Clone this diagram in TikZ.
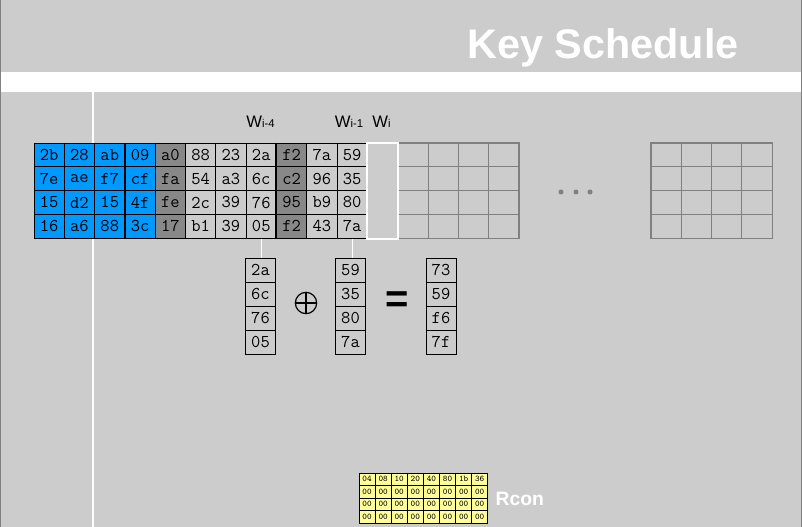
\documentclass[tikz,border=0pt]{standalone}
\usepackage{fontspec}
\setsansfont{Liberation Sans}
\definecolor{bg}{HTML}{CCCCCC}
\definecolor{keyblue}{HTML}{0099FF}
\definecolor{darkcell}{HTML}{888888}
\definecolor{gridgray}{HTML}{808080}
\definecolor{rconyellow}{HTML}{FFFF99}
\begin{document}
\begin{tikzpicture}[x=0.75pt,y=-0.75pt,
    cell/.style={draw=black,line width=0.6pt,minimum width=22.7pt,minimum height=17.85pt,
      inner sep=0pt,font=\ttfamily\fontsize{13.5}{13.5}\selectfont},
    col/.code={\ifnum#1<4\relax\pgfkeysalso{fill=keyblue}\else
      \ifnum#1=4\relax\pgfkeysalso{fill=darkcell}\else
      \ifnum#1=8\relax\pgfkeysalso{fill=darkcell}\else
      \pgfkeysalso{fill=bg}\fi\fi\fi},
    blank/.style={draw=gridgray,line width=0.5pt,minimum width=22.7pt,minimum height=17.85pt,inner sep=0pt},
    vcell/.style={cell,fill=bg,minimum width=22.5pt,minimum height=18pt},
    rcell/.style={draw=black,fill=rconyellow,line width=0.5pt,minimum width=12.07pt,minimum height=9.4pt,
      inner sep=0pt,font=\ttfamily\fontsize{6.5}{6.5}\selectfont},
    wlabel/.style={font=\sffamily\fontsize{12.5}{12.5}\selectfont,anchor=base,inner sep=0pt}]
  \useasboundingbox[fill=bg] (0,0) rectangle (802,527);
  \fill[white] (0,72) rectangle (802,92);
  \draw[white,line width=1.2pt] (93,92) -- (93,527);
  \draw[gridgray,line width=0.75pt] (0.5,0) -- (0.5,527) (801.5,0) -- (801.5,527);
  \node[font=\sffamily\bfseries\fontsize{31}{31}\selectfont,text=white,anchor=base] (title) at (603,59) {Key Schedule};
  \foreach \row [count=\j from 0] in {{2b,28,ab,09,a0,88,23,2a,f2,7a,59},
      {7e,ae,f7,cf,fa,54,a3,6c,c2,96,35},{15,d2,15,4f,fe,2c,39,76,95,b9,80},
      {16,a6,88,3c,17,b1,39,05,f2,43,7a}}{
    \foreach \val [count=\i from 0] in \row
      \node[cell,col=\i] (c-\j-\i) at ({49.15+30.3*\i},{154.9+23.8*\j}) {\val};
  }
  \foreach \j in {0,...,3}{
    \node[cell,draw=none] (w-\j) at ({49.15+30.3*11},{154.9+23.8*\j}) {};
    \foreach \i in {12,...,15}
      \node[blank] (e-\j-\i) at ({49.15+30.3*\i},{154.9+23.8*\j}) {};
    \foreach \i in {0,...,3}
      \node[blank] (r-\j-\i) at ({666.1+30.25*\i},{154.9+23.8*\j}) {};
  }
  \draw[gridgray,line width=1pt] (e-0-12.north west) rectangle (e-3-15.south east);
  \draw[gridgray,line width=1pt] (r-0-0.north west) rectangle (r-3-3.south east);
  \draw[white,line width=1.5pt] (w-0.north west) rectangle (w-3.south east);
  \draw[line width=1.4pt] (c-0-8.north west) -- (c-3-8.south west);
  \foreach \x in {561,576,590}
    \fill[gridgray] (\x,192) circle (2.5);
  \node[wlabel] (wa) at (260.5,128) {W{\fontsize{8.5}{8.5}\selectfont i-4}};
  \node[wlabel] (wb) at (349,128) {W{\fontsize{8.5}{8.5}\selectfont i-1}};
  \node[wlabel] (wc) at (381.5,128) {W{\fontsize{8.5}{8.5}\selectfont i}};
  \foreach \a/\b/\c [count=\k from 0] in {2a/59/73,6c/35/59,76/80/f6,05/7a/7f}{
    \node[vcell] (u-\k) at (260.5,{270+24*\k}) {\a};
    \node[vcell] (v-\k) at (350.5,{270+24*\k}) {\b};
    \node[vcell] (s-\k) at (441,{270+24*\k}) {\c};
  }
  \draw[white,line width=0.8pt] (c-3-7.south) -- (c-3-7.south |- u-0.north);
  \draw[white,line width=0.8pt] (c-3-10.south) -- (c-3-10.south |- v-0.north);
  \node[circle,draw,line width=0.9pt,minimum size=16pt,inner sep=0pt] (xor) at (306,303) {};
  \draw[line width=0.9pt] (xor.north) -- (xor.south) (xor.west) -- (xor.east);
  \node[font=\sffamily\bfseries\fontsize{30}{30}\selectfont] (eq) at (397,302) {=};
  \foreach \val [count=\i from 0] in {04,08,10,20,40,80,1b,36}{
    \node[rcell] (rc-0-\i) at ({367+16.1*\i},479.25) {\val};
    \foreach \j in {1,2,3}
      \node[rcell] (rc-\j-\i) at ({367+16.1*\i},{479.25+12.5*\j}) {00};
  }
  \node[text=white,font=\sffamily\bfseries\fontsize{14.5}{14.5}\selectfont,anchor=west] (rconlabel) at (491,499) {Rcon};
\end{tikzpicture}
\end{document}
